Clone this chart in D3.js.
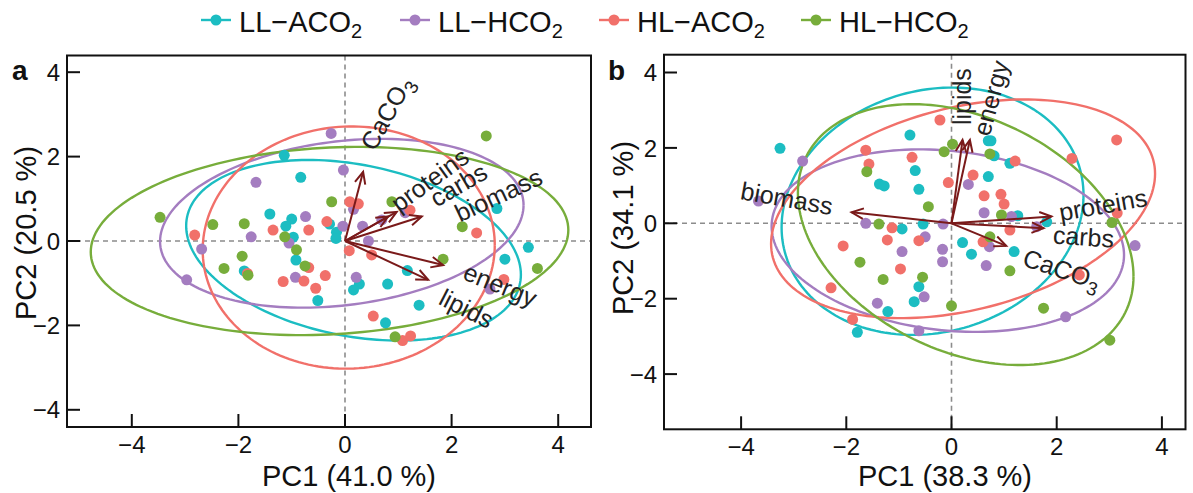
<!DOCTYPE html>
<html><head><meta charset="utf-8">
<script src="https://cdn.jsdelivr.net/npm/d3@7"></script>
<style>
html,body{margin:0;padding:0;background:#fff;}
svg{display:block;font-family:"Liberation Sans", Arial, Helvetica, sans-serif;}
</style></head><body>
<svg id="chart" width="1193" height="493"></svg>
<script>
// ---- groups, variables, ticks ----
const groups = ["LL−ACO", "LL−HCO", "HL−ACO", "HL−HCO"]; // each followed by subscript 2
const groupSub = "2";
const groupColors = ["#1CBDC2", "#A47DC0", "#F1706A", "#77AD3B"];
const variables = ["biomass", "proteins", "carbs", "lipids", "energy", "CaCO3"];
const axisTicks = [-4, -2, 0, 2, 4];
const axisTitlesA = ["PC1 (41.0 %)", "PC2 (20.5 %)"];
const axisTitlesB = ["PC1 (38.3 %)", "PC2 (34.1 %)"];

// ---- panel a: PCA scores [PC1, PC2] ----
const scoresA_LLACO2 = [[-1.14,2.03],[-0.83,1.51],[-1.41,0.64],[-1.00,0.52],[-1.11,0.35],[-0.29,0.40],[-0.97,0.09],[-0.92,-0.45],[-1.89,-0.71],[-0.51,-1.41],[-0.16,0.21],[-0.17,0.06],[2.85,0.77],[3.44,-0.15],[3.00,-0.43],[1.17,-0.70],[0.27,-1.02],[0.16,-1.16],[0.80,-1.02],[1.39,-1.52],[0.76,-1.94]];
const scoresA_LLHCO2 = [[-0.26,2.55],[-1.67,1.39],[-0.74,0.58],[-1.76,0.10],[-1.05,-0.05],[-2.69,-0.19],[-0.93,-0.86],[-2.97,-0.92],[-0.03,1.68],[0.16,0.75],[1.13,0.67],[-0.04,0.35],[0.33,0.35],[0.44,0.00],[0.69,0.50],[0.21,-0.86],[2.72,-1.14]];
const scoresA_HLACO2 = [[-1.35,0.26],[-0.68,0.26],[-0.34,0.46],[-2.82,0.14],[-0.68,-0.63],[-1.83,-0.77],[-0.37,-0.82],[-1.16,-0.96],[-0.77,-0.95],[-0.55,-1.12],[0.09,0.93],[0.25,0.88],[1.22,0.73],[2.47,0.19],[0.08,-0.23],[0.50,-0.33],[2.98,-0.91],[0.53,-1.78],[1.08,-2.36],[1.23,-2.25]];
const scoresA_HLHCO2 = [[-3.47,0.56],[-2.48,0.39],[-1.89,0.41],[-1.13,0.10],[-0.91,-0.21],[-0.25,0.93],[-1.93,-0.36],[-2.27,-0.65],[-0.75,-0.59],[-1.82,-0.81],[2.65,2.49],[0.88,0.93],[2.20,0.34],[1.84,-0.43],[3.61,-0.65],[0.94,-2.27]];

// ---- panel b: PCA scores [PC1, PC2] ----
const scoresB_LLACO2 = [[-3.26,1.99],[-0.79,2.34],[-0.69,1.40],[-1.37,1.04],[-1.28,0.99],[-0.62,0.90],[-0.94,-0.15],[-0.54,-0.02],[-0.62,-1.68],[-0.71,-2.08],[-1.21,-2.34],[-1.79,-2.89],[0.70,2.19],[0.75,2.19],[0.81,1.79],[1.11,1.59],[0.70,1.24],[1.26,0.20],[1.81,0.04],[0.21,-0.51],[0.38,-0.82],[1.19,-0.75]];
const scoresB_LLHCO2 = [[-2.83,1.65],[-3.67,0.59],[-1.63,0.00],[-0.50,-0.36],[-0.94,-0.75],[-0.52,-1.95],[-1.41,-2.12],[-0.62,-2.85],[0.32,1.03],[0.62,0.28],[1.14,0.18],[-0.16,-0.02],[1.62,-0.09],[0.72,-0.62],[-0.17,-0.69],[-0.17,-1.02],[0.66,-1.12],[2.17,-2.48],[3.49,-0.59]];
const scoresB_HLACO2 = [[-1.63,1.94],[-1.57,1.57],[-0.75,1.75],[-1.13,-0.12],[-1.22,-0.44],[-0.62,-0.46],[-2.06,-0.60],[-0.97,-1.21],[-2.29,-1.71],[-1.88,-2.55],[-0.22,2.74],[1.21,1.65],[3.14,2.21],[2.29,1.72],[0.41,1.28],[-0.06,1.08],[0.62,0.73],[0.94,0.77],[1.00,0.51],[1.11,-0.18],[0.60,-0.49],[2.43,-1.37],[3.15,0.27]];
const scoresB_HLHCO2 = [[-1.61,1.37],[-0.44,0.44],[-1.38,-0.02],[-1.74,-1.03],[-1.30,-1.49],[-0.55,-1.43],[0.02,2.10],[-0.14,1.90],[0.73,1.84],[0.95,0.22],[3.05,0.02],[0.73,-0.36],[1.11,-1.26],[0.00,-2.19],[1.75,-2.25],[3.01,-3.10]];

// ---- group ellipses: [centre PC1, centre PC2, half-width, half-height, correlation] ----
const ellipsesA = [[0.16,-0.22,3.14,2.14,-0.27],[-0.06,0.42,3.41,2.00,0.215],[0.07,-0.155,2.74,2.87,0.02],[-0.29,0.00,4.48,2.23,0.117]];
const ellipsesB = [[-0.36,0.32,2.87,3.28,0.13],[-0.07,-0.46,3.35,2.42,-0.157],[0.22,0.385,3.65,2.90,0.32],[0.27,-0.30,3.19,3.46,-0.32]];

// ---- variable loadings (arrow tips), same order as `variables` ----
const loadingsA = [[1.44,0.58],[0.97,0.69],[0.81,0.58],[1.56,-0.92],[1.84,-0.57],[0.34,1.64]];
const loadingsB = [[-1.90,0.29],[1.90,0.18],[1.75,-0.13],[0.21,2.21],[0.35,2.21],[1.04,-0.60]];

// variable label placement: [PC1, PC2, rotation in degrees]
const labelPlaceA = [[2.88,1.09,-25],[1.59,1.45,-36],[2.13,1.33,-30],[2.28,-1.60,27],[2.91,-1.04,22],[0.78,3.03,-61]];
const labelPlaceB = [[-3.13,0.66,10],[2.88,0.49,-10],[2.51,-0.36,4],[0.21,3.36,-90],[0.75,3.32,-75],[2.10,-1.22,18]];

const svg = d3.select("#chart");
const arrowColor = "#7A1A1A";

function drawPanel(cfg) {
  const x = d3.scaleLinear().domain(cfg.xDomain).range([cfg.left, cfg.right]);
  const y = d3.scaleLinear().domain(cfg.yDomain).range([cfg.bottom, cfg.top]);
  const g = svg.append("g");

  // clip to plot box
  const clipId = "clip-" + cfg.id;
  g.append("clipPath").attr("id", clipId).append("rect")
    .attr("x", cfg.left).attr("y", cfg.top)
    .attr("width", cfg.right - cfg.left).attr("height", cfg.bottom - cfg.top);
  const plot = g.append("g").attr("clip-path", `url(#${clipId})`);

  // zero reference lines
  plot.append("line").attr("x1", x(0)).attr("x2", x(0)).attr("y1", cfg.top).attr("y2", cfg.bottom)
    .attr("stroke", "#8c8c8c").attr("stroke-width", 1.6).attr("stroke-dasharray", "5,4");
  plot.append("line").attr("x1", cfg.left).attr("x2", cfg.right).attr("y1", y(0)).attr("y2", y(0))
    .attr("stroke", "#8c8c8c").attr("stroke-width", 1.6).attr("stroke-dasharray", "5,4");

  // ellipses
  const line = d3.line().x(d => x(d[0])).y(d => y(d[1]));
  cfg.ellipses.forEach((e, i) => {
    const [cx, cy, hx, hy, r] = e;
    const pts = d3.range(0, 361, 2).map(a => {
      const t = a * Math.PI / 180;
      return [cx + hx * Math.cos(t), cy + hy * (r * Math.cos(t) + Math.sqrt(1 - r * r) * Math.sin(t))];
    });
    plot.append("path").attr("d", line(pts)).attr("fill", "none")
      .attr("stroke", groupColors[i]).attr("stroke-width", 2.4);
  });

  // scores
  cfg.scores.forEach((s, i) => {
    plot.append("g").selectAll("circle").data(s).join("circle")
      .attr("cx", d => x(d[0])).attr("cy", d => y(d[1])).attr("r", 5.5)
      .attr("fill", groupColors[i]);
  });

  // loading arrows
  const arrows = plot.append("g").attr("stroke", arrowColor).attr("stroke-width", 2).attr("fill", "none");
  cfg.loadings.forEach(d => {
    const x0 = x(0), y0 = y(0), x1 = x(d[0]), y1 = y(d[1]);
    const ang = Math.atan2(y1 - y0, x1 - x0);
    const hl = 13, spread = 0.42;
    arrows.append("line").attr("x1", x0).attr("y1", y0).attr("x2", x1).attr("y2", y1);
    arrows.append("path").attr("d",
      `M${x1 - hl * Math.cos(ang - spread)},${y1 - hl * Math.sin(ang - spread)}L${x1},${y1}L${x1 - hl * Math.cos(ang + spread)},${y1 - hl * Math.sin(ang + spread)}`);
  });

  // variable labels
  variables.forEach((v, i) => {
    const p = cfg.labels[i];
    const t = g.append("text").attr("transform", `translate(${x(p[0])},${y(p[1])}) rotate(${p[2]})`)
      .attr("text-anchor", "middle").attr("dy", "0.35em")
      .attr("font-size", 25).attr("fill", "#222");
    if (v === "CaCO3") {
      t.append("tspan").text("CaCO");
      t.append("tspan").text("3").attr("font-size", 19).attr("dy", 7);
    } else {
      t.text(v);
    }
  });

  // box
  g.append("rect").attr("x", cfg.left).attr("y", cfg.top)
    .attr("width", cfg.right - cfg.left).attr("height", cfg.bottom - cfg.top)
    .attr("fill", "none").attr("stroke", "#111").attr("stroke-width", 2);

  // inward ticks with labels
  const tl = 13;
  const fmt = t => String(t).replace("-", "−");
  axisTicks.forEach(t => {
    g.append("line").attr("x1", x(t)).attr("x2", x(t)).attr("y1", cfg.bottom).attr("y2", cfg.bottom - tl)
      .attr("stroke", "#111").attr("stroke-width", 2);
    g.append("text").attr("x", x(t)).attr("y", cfg.bottom + 26).attr("text-anchor", "middle")
      .attr("font-size", 24).attr("fill", "#111").text(fmt(t));
    g.append("line").attr("x1", cfg.left).attr("x2", cfg.left + tl).attr("y1", y(t)).attr("y2", y(t))
      .attr("stroke", "#111").attr("stroke-width", 2);
    g.append("text").attr("x", cfg.left - 7).attr("y", y(t)).attr("dy", "0.36em").attr("text-anchor", "end")
      .attr("font-size", 24).attr("fill", "#111").text(fmt(t));
  });

  // axis titles
  g.append("text").attr("x", cfg.xTitlePos[0]).attr("y", cfg.xTitlePos[1]).attr("text-anchor", "middle")
    .attr("font-size", 29).attr("fill", "#111").text(cfg.titles[0]);
  g.append("text").attr("transform", `translate(${cfg.yTitlePos[0]},${cfg.yTitlePos[1]}) rotate(-90)`)
    .attr("text-anchor", "middle").attr("font-size", 29).attr("fill", "#111").text(cfg.titles[1]);

  // panel letter
  g.append("text").attr("x", cfg.letterPos[0]).attr("y", cfg.letterPos[1])
    .attr("font-size", 28).attr("font-weight", "bold").attr("fill", "#111").text(cfg.id);
}

drawPanel({
  id: "a", left: 67, right: 591, top: 55.5, bottom: 427,
  xDomain: [(67 - 345) / 53.3, (591 - 345) / 53.3],
  yDomain: [(241 - 427) / 42.2, (241 - 55.5) / 42.2],
  scores: [scoresA_LLACO2, scoresA_LLHCO2, scoresA_HLACO2, scoresA_HLHCO2],
  ellipses: ellipsesA, loadings: loadingsA, labels: labelPlaceA, titles: axisTitlesA,
  xTitlePos: [349, 486], yTitlePos: [36, 233], letterPos: [12, 80]
});
drawPanel({
  id: "b", left: 664, right: 1185.5, top: 54.7, bottom: 429.3,
  xDomain: [(664 - 951.5) / 52.6, (1185.5 - 951.5) / 52.6],
  yDomain: [(223.3 - 429.3) / 37.7, (223.3 - 54.7) / 37.7],
  scores: [scoresB_LLACO2, scoresB_LLHCO2, scoresB_HLACO2, scoresB_HLHCO2],
  ellipses: ellipsesB, loadings: loadingsB, labels: labelPlaceB, titles: axisTitlesB,
  xTitlePos: [945, 486], yTitlePos: [633, 228], letterPos: [608, 80]
});

// legend
const legendX = [201, 400, 599, 801];
const legend = svg.append("g");
groups.forEach((name, i) => {
  const lx = legendX[i], ly = 20;
  legend.append("line").attr("x1", lx).attr("x2", lx + 30).attr("y1", ly).attr("y2", ly)
    .attr("stroke", groupColors[i]).attr("stroke-width", 2.4);
  legend.append("circle").attr("cx", lx + 15).attr("cy", ly).attr("r", 5.5).attr("fill", groupColors[i]);
  const t = legend.append("text").attr("x", lx + 38).attr("y", 32).attr("font-size", 29).attr("fill", "#111");
  t.append("tspan").text(name);
  t.append("tspan").text(groupSub).attr("font-size", 20).attr("dy", 6);
});
</script>
</body></html>
